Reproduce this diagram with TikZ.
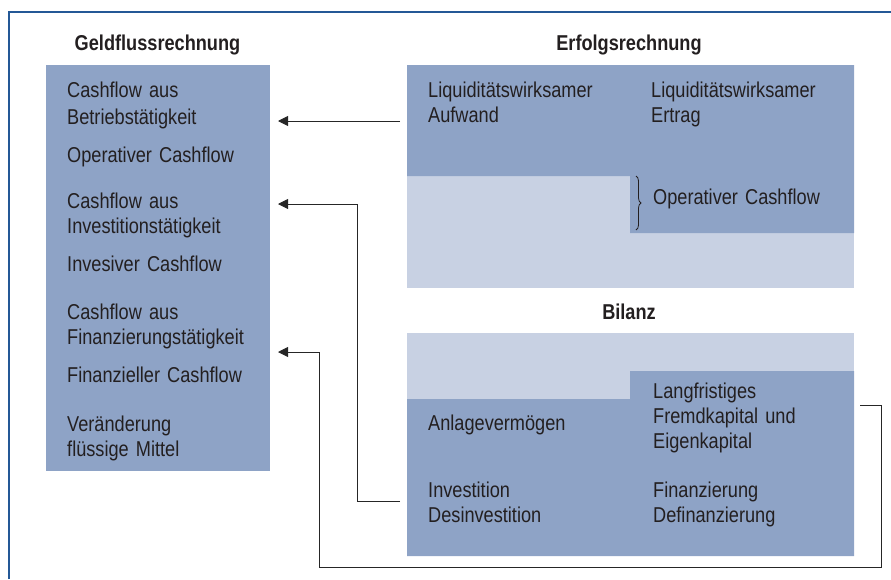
\documentclass[tikz,border=0pt]{standalone}
\usepackage{fontspec}
\setmainfont{Liberation Sans}[FakeStretch=0.845]
\usepackage{tikz}
\usetikzlibrary{calc, arrows.meta, decorations.pathreplacing}
\definecolor{boxdark}{RGB}{142,163,198}
\definecolor{boxlight}{RGB}{200,209,227}
\definecolor{frameblue}{RGB}{36,88,150}
\definecolor{inkgray}{RGB}{35,31,32}
\tikzstyle{area} = [rectangle, fill=boxlight, inner sep=0pt]
\tikzstyle{entry} = [anchor=base west, inner sep=0pt, text width=220pt, align=left, text=inkgray, font=\fontsize{21.5}{25}\selectfont]
\tikzstyle{heading} = [anchor=base, inner sep=0pt, text=inkgray, font=\fontsize{21.5}{25}\selectfont\bfseries]
\tikzstyle{flow} = [draw=black!85, line width=0.9pt, -{Triangle[length=10pt, width=10pt]}]

\begin{document}
\begin{tikzpicture}[x=1pt, y=-1pt]

        \useasboundingbox (0, 0) rectangle (891, 579);
        \draw[draw=frameblue, line width=1.6pt] (9, 579) -- (9, 12) -- (891, 12);

        % Geldflussrechnung
        \node[heading] at (157.5, 50) (GeldTitle) {Geldflussrechnung};
        \node[area, fill=boxdark, minimum width=224pt, minimum height=406pt] at (158, 268) (Geld) {};
        \node[entry] at (67, 97) (Betrieb) {Cashflow aus\\[2pt]Betriebstätigkeit};
        \node[entry] at (67, 162) (OpCF) {Operativer Cashflow};
        \node[entry] at (67, 208) (Invest) {Cashflow aus\\Investitionstätigkeit};
        \node[entry] at (67, 271) (InvCF) {Invesiver Cashflow};
        \node[entry] at (67, 319) (Finanz) {Cashflow aus\\Finanzierungstätigkeit};
        \node[entry] at (67, 382) (FinCF) {Finanzieller Cashflow};
        \node[entry] at (67, 431) (Mittel) {Veränderung\\flüssige Mittel};

        % Erfolgsrechnung
        \node[heading] at (629, 50) (ErfolgTitle) {Erfolgsrechnung};
        \node[area, minimum width=447pt, minimum height=223pt] at (630.5, 176.5) (Erfolg) {};
        \fill[boxdark] (407, 65) -- (854, 65) -- (854, 233) -- (630, 233) -- (630, 176) -- (407, 176) -- cycle;
        \node[entry] at (428, 97) (Aufwand) {Liquiditätswirksamer\\Aufwand};
        \node[entry] at (651, 97) (Ertrag) {Liquiditätswirksamer\\Ertrag};
        \node[entry] at (653, 204) (ErfolgCF) {Operativer Cashflow};
        \draw[inkgray, line width=0.8pt, decorate, decoration={brace, amplitude=5pt}] (636, 176) -- (636, 230);

        % Bilanz
        \node[heading] at (629, 319) (BilanzTitle) {Bilanz};
        \node[area, minimum width=447pt, minimum height=223pt] at (630.5, 444.5) (Bilanz) {};
        \fill[boxdark] (407, 556) -- (407, 399) -- (630, 399) -- (630, 371) -- (854, 371) -- (854, 556) -- cycle;
        \node[entry] at (653, 398) (Kapital) {Langfristiges\\Fremdkapital und\\Eigenkapital};
        \node[entry] at (428, 430) (Anlage) {Anlagevermögen};
        \node[entry] at (428, 497) (Investition) {Investition\\Desinvestition};
        \node[entry] at (653, 497) (Finanzierung) {Finanzierung\\Definanzierung};

        \coordinate (BetriebIn) at (278, 121);
        \coordinate (InvestIn) at (278, 204);
        \coordinate (FinanzIn) at (278, 352);
        \coordinate (AufwandOut) at (400, 121);
        \coordinate (InvestOut) at (400, 501);
        \coordinate (KapitalOut) at (860, 405);
        \coordinate (Loop) at (319, 567);

        \draw[flow] (AufwandOut) -- (BetriebIn);
        \draw[flow] (InvestOut) -- ++(-43, 0) |- (InvestIn);
        \draw[flow] (KapitalOut) -- ++(21, 0) |- (Loop) |- (FinanzIn);

    \end{tikzpicture}
\end{document}
